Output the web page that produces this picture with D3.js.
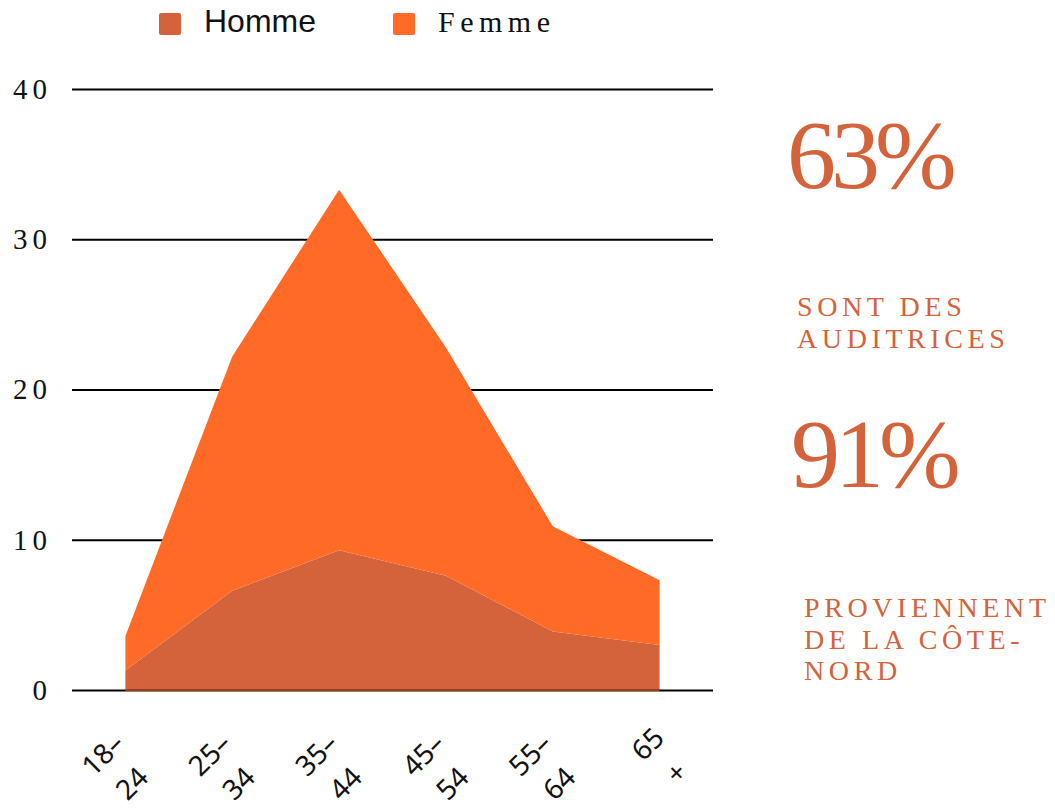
<!DOCTYPE html>
<html>
<head>
<meta charset="utf-8">
<script src="https://cdn.jsdelivr.net/npm/d3@7"></script>
<style>
  body { margin: 0; background: #fff; }
</style>
</head>
<body>
<div id="chart"></div>
<script>
// --- data ---
const ageGroups = ["18–24", "25–34", "35–44", "45–54", "55–64", "65+"];
const ageLabelLines = [["18–", "24"], ["25–", "34"], ["35–", "44"], ["45–", "54"], ["55–", "64"], ["65", "+"]];
const homme = [1.3, 6.6, 9.3, 7.6, 3.9, 3.0];
const femme = [2.3, 15.6, 24.0, 15.2, 7.0, 4.3];
const yTicks = [0, 10, 20, 30, 40];
const seriesKeys = ["homme", "femme"];
const seriesNames = ["Homme", "Femme"];
const seriesColors = ["#d4623a", "#ff6b26"];
const statValues = ["63%", "91%"];
const statCaptions = [["SONT DES", "AUDITRICES"], ["PROVIENNENT", "DE LA CÔTE-", "NORD"]];

const width = 1055, height = 811;
const margin = { top: 89, right: 342, bottom: 121, left: 72 };
const innerW = width - margin.left - margin.right;
const textColor = "#d4623a";
const serif = "'Liberation Serif', 'Times New Roman', serif";

const rows = ageGroups.map((g, i) => ({ age: g, homme: homme[i], femme: femme[i] }));
const stacked = d3.stack().keys(seriesKeys)(rows);

const svg = d3.select("#chart").append("svg")
  .attr("width", width)
  .attr("height", height);

const x = d3.scalePoint()
  .domain(ageGroups)
  .range([margin.left, width - margin.right])
  .padding(0.5);
const y = d3.scaleLinear()
  .domain([0, 40])
  .range([height - margin.bottom, margin.top]);

// gridlines + y labels
const yAxis = d3.axisLeft(y)
  .tickValues(yTicks)
  .tickSize(-innerW)
  .tickFormat(d => d);
const yAxisGroup = svg.append("g")
  .attr("transform", `translate(${margin.left},0)`)
  .call(yAxis);
yAxisGroup.select(".domain").remove();
yAxisGroup.selectAll("line")
  .attr("stroke", "#000")
  .attr("stroke-width", 2);
yAxisGroup.selectAll("text")
  .attr("x", -20)
  .attr("fill", "#111")
  .style("font-family", serif)
  .style("font-size", "29px")
  .style("letter-spacing", "5px");

// areas
const area = d3.area()
  .x(d => x(d.data.age))
  .y0(d => y(d[0]))
  .y1(d => y(d[1]));
svg.append("g")
  .selectAll("path")
  .data(stacked)
  .enter()
  .append("path")
  .attr("d", area)
  .attr("fill", (d, i) => seriesColors[i]);

svg.append("line")
  .attr("x1", x(ageGroups[0]))
  .attr("x2", x(ageGroups[ageGroups.length - 1]))
  .attr("y1", y(0))
  .attr("y2", y(0))
  .attr("stroke", "#9e3c1c")
  .attr("stroke-width", 2);

// x labels, rotated and wrapped
const xLabels = svg.append("g")
  .selectAll("g")
  .data(ageGroups)
  .enter()
  .append("g")
  .attr("transform", d => `translate(${x(d) + 5},${y(0) + 37}) rotate(-45)`);
xLabels.each(function(d, i) {
  const g = d3.select(this);
  const probe = g.append("text")
    .style("font-family", "'Noto Sans', sans-serif")
    .style("font-size", "28px")
    .text(d);
  const full = probe.node().getComputedTextLength();
  probe.remove();
  ageLabelLines[i].forEach((line, j) => {
    g.append("text")
      .attr("x", -full / 2)
      .attr("y", j * 41)
      .attr("dy", "0.35em")
      .attr("text-anchor", "middle")
      .attr("fill", "#111")
      .style("font-family", "'Noto Sans', sans-serif")
      .style("font-size", "28px")
      .text(line);
  });
});

// legend
const legend = svg.append("g");
const legendX = [159, 393];
seriesNames.forEach((name, i) => {
  legend.append("rect")
    .attr("x", legendX[i])
    .attr("y", 13)
    .attr("width", 22)
    .attr("height", 22)
    .attr("rx", 2)
    .attr("fill", seriesColors[i]);
  legend.append("text")
    .attr("x", legendX[i] + 45)
    .attr("y", 32)
    .attr("fill", "#111")
    .style("font-family", i === 0 ? "'Liberation Sans', Arial, sans-serif" : serif)
    .style("font-size", i === 0 ? "32px" : "30px")
    .style("letter-spacing", i === 0 ? "0px" : "5.5px")
    .text(name);
});

// side stats
const statBaseline = [188, 487];
const statX = [787, 791];
const captionBaseline = [316, 617];
const captionX = [797, 804];
statValues.forEach((v, i) => {
  svg.append("text")
    .attr("x", statX[i])
    .attr("y", statBaseline[i])
    .attr("fill", textColor)
    .style("font-family", serif)
    .style("font-size", "98px")
    .style("letter-spacing", "-5px")
    .text(v);
  svg.append("text")
    .attr("fill", textColor)
    .style("font-family", serif)
    .style("font-size", "28px")
    .style("letter-spacing", "4.6px")
    .selectAll("tspan")
    .data(statCaptions[i])
    .enter()
    .append("tspan")
    .attr("x", captionX[i])
    .attr("y", (d, j) => captionBaseline[i] + j * 31.5)
    .text(d => d);
});
</script>
</body>
</html>
